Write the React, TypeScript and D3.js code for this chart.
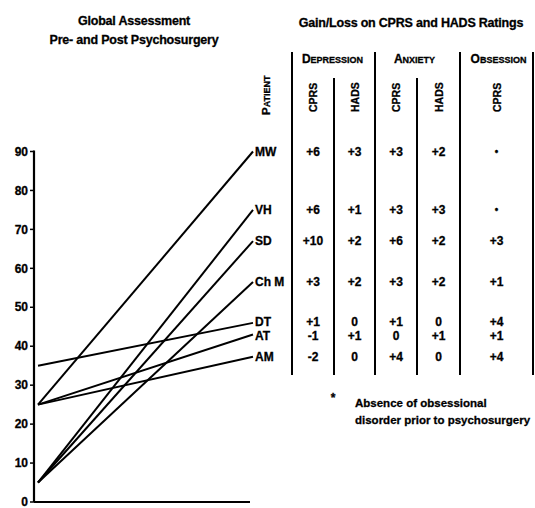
import React from "react";
import * as d3 from "d3";

const patients = ["MW", "VH", "SD", "Ch M", "DT", "AT", "AM"];
const preScores = [25, 5, 5, 5, 35, 25, 25];
const postScores = [90, 75, 67, 56.5, 46, 43, 37.3];
const yTicks = [0, 10, 20, 30, 40, 50, 60, 70, 80, 90];

const depressionCPRS = ["+6", "+6", "+10", "+3", "+1", "-1", "-2"];
const depressionHADS = ["+3", "+1", "+2", "+2", "0", "+1", "0"];
const anxietyCPRS = ["+3", "+3", "+6", "+3", "+1", "0", "+4"];
const anxietyHADS = ["+2", "+3", "+2", "+2", "0", "+1", "0"];
const obsessionCPRS = ["•", "•", "+3", "+1", "+4", "+1", "+4"];

const columnLabels = ["CPRS", "HADS", "CPRS", "HADS", "CPRS"];
const groupLabels = [
  { first: "D", rest: "EPRESSION" },
  { first: "A", rest: "NXIETY" },
  { first: "O", rest: "BSESSION" },
];

const FONT = "'Liberation Sans', Arial, Helvetica, sans-serif";

export default function App() {
  const W = 535;
  const H = 508;
  const y = d3.scaleLinear().domain([0, 90]).range([502, 151.5]);
  const x = d3.scalePoint<string>().domain(["pre", "post"]).range([38, 253]);
  const axisX = 34;

  const colEdges = [292, 334, 375, 417, 460, 533];
  const colCenters = colEdges.slice(0, -1).map((e, i) => (e + colEdges[i + 1]) / 2);
  const groupCenters = [(292 + 375) / 2 - 1, (375 + 460) / 2 - 3, (460 + 533) / 2 + 2];
  const tableCols = [depressionCPRS, depressionHADS, anxietyCPRS, anxietyHADS, obsessionCPRS];
  const tableBottom = 375;
  // small vertical nudges so close rows (DT / AT) stay legible
  const rowNudge = [0, 0, 0, 0, -1.5, 1, 0];
  const rowY = (i: number) => y(postScores[i]) + rowNudge[i];

  const line = d3
    .line<[string, number]>()
    .x((d) => x(d[0]) as number)
    .y((d) => y(d[1]));

  const heavy = { stroke: "#000", strokeWidth: 0.3 };

  return (
    <svg width={W} height={H} style={{ position: "absolute", left: 0, top: 0 }} fontFamily={FONT} fontWeight="bold">
      <rect width={W} height={H} fill="#fff" />
      {/* Titles */}
      <g {...heavy}>
        <text x={134} y={25} textAnchor="middle" fontSize={12.5} letterSpacing={-0.2}>Global Assessment</text>
        <text x={134} y={44} textAnchor="middle" fontSize={12.5} letterSpacing={-0.2}>Pre- and Post Psychosurgery</text>
        <text x={411} y={27} textAnchor="middle" fontSize={12.5} letterSpacing={-0.2}>Gain/Loss on CPRS and HADS Ratings</text>
      </g>

      {/* Axes */}
      <line x1={axisX} x2={axisX} y1={y(90) - 1} y2={y(0)} stroke="#000" strokeWidth={2.2} />
      <line x1={axisX} x2={250} y1={y(0)} y2={y(0)} stroke="#000" strokeWidth={2.2} />
      {yTicks.map((t) => (
        <g key={t}>
          <line x1={axisX - 4} x2={axisX} y1={y(t)} y2={y(t)} stroke="#000" strokeWidth={1.5} />
          <text x={axisX - 6} y={y(t)} dy="0.35em" textAnchor="end" fontSize={12} {...heavy}>{t}</text>
        </g>
      ))}

      {/* Lines */}
      {patients.map((p, i) => (
        <path
          key={p}
          d={line([["pre", preScores[i]], ["post", postScores[i]]]) || ""}
          fill="none"
          stroke="#000"
          strokeWidth={2}
        />
      ))}
      {patients.map((p, i) => (
        <text key={p} x={(x("post") as number) + 2} y={rowY(i)} dy="0.35em" fontSize={12} {...heavy}>{p}</text>
      ))}

      {/* Table header */}
      <g {...heavy}>
        <text transform={`translate(270,115) rotate(-90)`} fontSize={11.5}>
          <tspan>P</tspan>
          <tspan fontSize={9}>ATIENT</tspan>
        </text>
        {groupLabels.map((g, i) => (
          <text key={i} x={groupCenters[i]} y={63} textAnchor="middle" fontSize={12}>
            <tspan>{g.first}</tspan>
            <tspan fontSize={9}>{g.rest}</tspan>
          </text>
        ))}
        {columnLabels.map((c, i) => (
          <text key={i} transform={`translate(${colCenters[i] + 4},112) rotate(-90)`} fontSize={10.5}>{c}</text>
        ))}
      </g>

      {/* Table lines */}
      {colEdges.map((e, i) => {
        const full = i === 0 || i === 2 || i === 4 || i === 5;
        return (
          <line key={i} x1={e} x2={e} y1={full ? 52 : 78} y2={tableBottom} stroke="#000" strokeWidth={2} />
        );
      })}

      {/* Table values */}
      {tableCols.map((col, ci) =>
        col.map((v, ri) => (
          <text
            key={`${ci}-${ri}`}
            x={colCenters[ci]}
            y={rowY(ri)}
            dy="0.35em"
            textAnchor="middle"
            fontSize={v === "•" ? 10 : 12}
            {...heavy}
          >
            {v}
          </text>
        ))
      )}

      {/* Footnote */}
      <g {...heavy}>
        <text x={333} y={402} textAnchor="middle" fontSize={12}>*</text>
        <text x={355} y={407} fontSize={11.5}>Absence of obsessional</text>
        <text x={355} y={424} fontSize={11.5}>disorder prior to psychosurgery</text>
      </g>
    </svg>
  );
}
